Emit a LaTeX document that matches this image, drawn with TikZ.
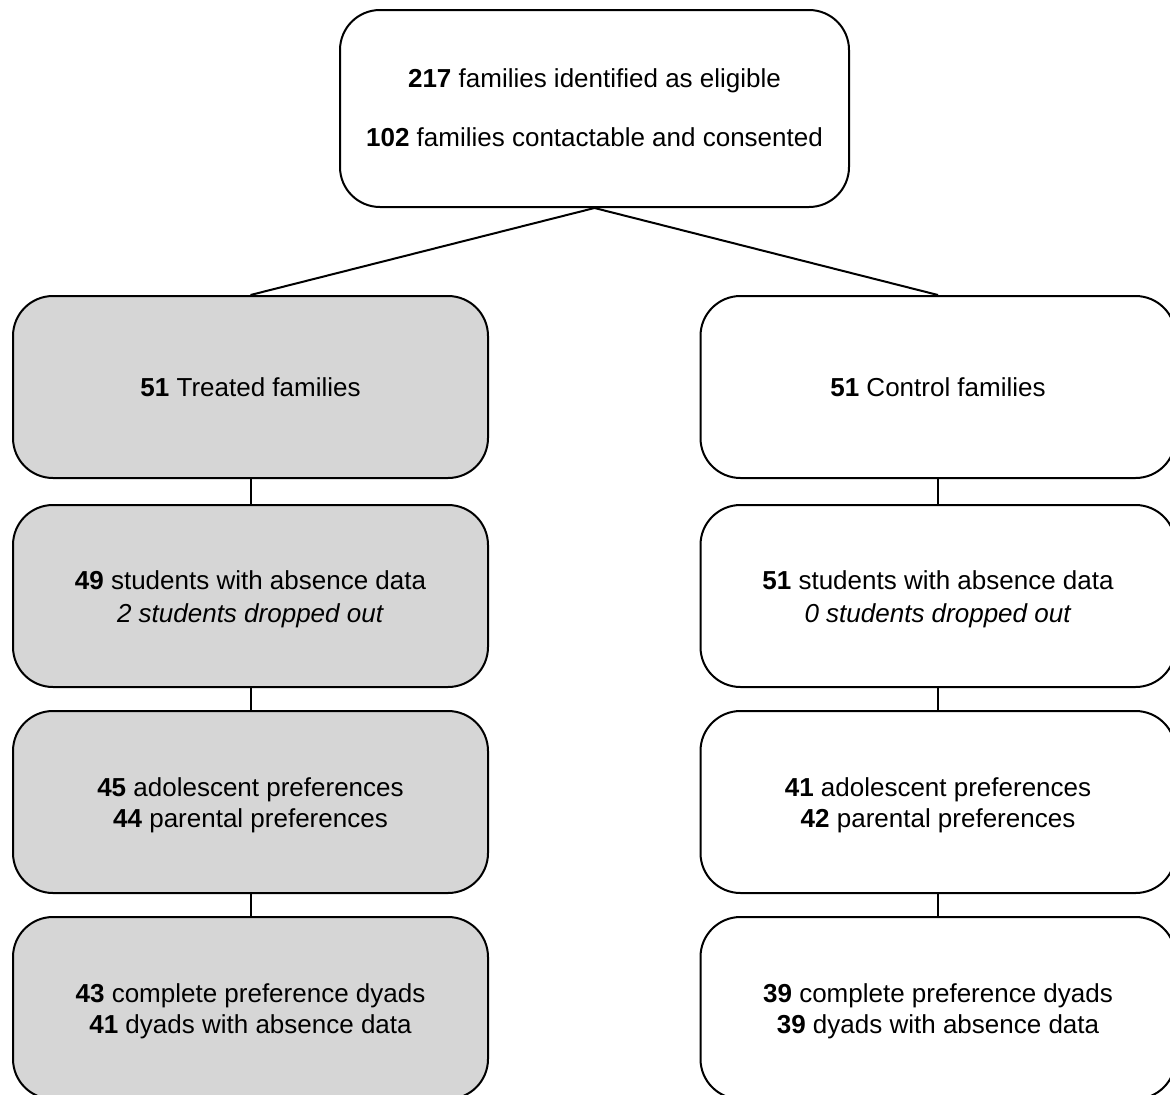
\documentclass[tikz,border=0pt]{standalone}
\usepackage{fontspec}
\setmainfont{Liberation Sans}
\begin{document}
\begin{tikzpicture}[x=1pt,y=-1pt,
  box/.style={draw=black, line width=2pt, rounded corners=40pt, minimum width=475pt, minimum height=182pt, inner sep=0pt},
  grey/.style={fill=boxgrey},
  txt/.style={align=center, inner sep=0pt, yshift=-3pt, font=\fontsize{26}{31}\selectfont},
  txtb/.style={txt, font=\fontsize{26}{33}\selectfont},
  txts/.style={txt, yshift=3pt},
  conn/.style={draw=black, line width=2pt}]
\definecolor{boxgrey}{HTML}{D6D6D6}
\useasboundingbox (0,0) rectangle (1170,1095);
\clip (0,0) rectangle (1170,1095);
\fill[white] (0,0) rectangle (1170,1095);
\node[box, minimum width=509pt, minimum height=197pt,
  label={[txt, name=topt, yshift=4pt]center:{\textbf{217} families identified as eligible\\[28pt]\textbf{102} families contactable and consented}}] (top) at (594.5,108.5) {};
\node[box, grey, label={[txts, name=l1t]center:{\textbf{51} Treated families}}] (l1) at (250.5,387) {};
\node[box, grey, label={[txtb, name=l2t]center:{\textbf{49} students with absence data\\\textit{2 students dropped out}}}] (l2) at (250.5,596) {};
\node[box, grey, label={[txt, name=l3t]center:{\textbf{45} adolescent preferences\\\textbf{44} parental preferences}}] (l3) at (250.5,802) {};
\node[box, grey, label={[txt, name=l4t]center:{\textbf{43} complete preference dyads\\\textbf{41} dyads with absence data}}] (l4) at (250.5,1008) {};
\node[box, label={[txts, name=r1t]center:{\textbf{51} Control families}}] (r1) at (938,387) {};
\node[box, label={[txtb, name=r2t]center:{\textbf{51} students with absence data\\\textit{0 students dropped out}}}] (r2) at (938,596) {};
\node[box, label={[txt, name=r3t]center:{\textbf{41} adolescent preferences\\\textbf{42} parental preferences}}] (r3) at (938,802) {};
\node[box, label={[txt, name=r4t]center:{\textbf{39} complete preference dyads\\\textbf{39} dyads with absence data}}] (r4) at (938,1008) {};
\draw[conn] (l1.north) -- (top.south) -- (r1.north);
\draw[conn] (l1.south) -- (l2.north);
\draw[conn] (l2.south) -- (l3.north);
\draw[conn] (l3.south) -- (l4.north);
\draw[conn] (r1.south) -- (r2.north);
\draw[conn] (r2.south) -- (r3.north);
\draw[conn] (r3.south) -- (r4.north);
\end{tikzpicture}
\end{document}
